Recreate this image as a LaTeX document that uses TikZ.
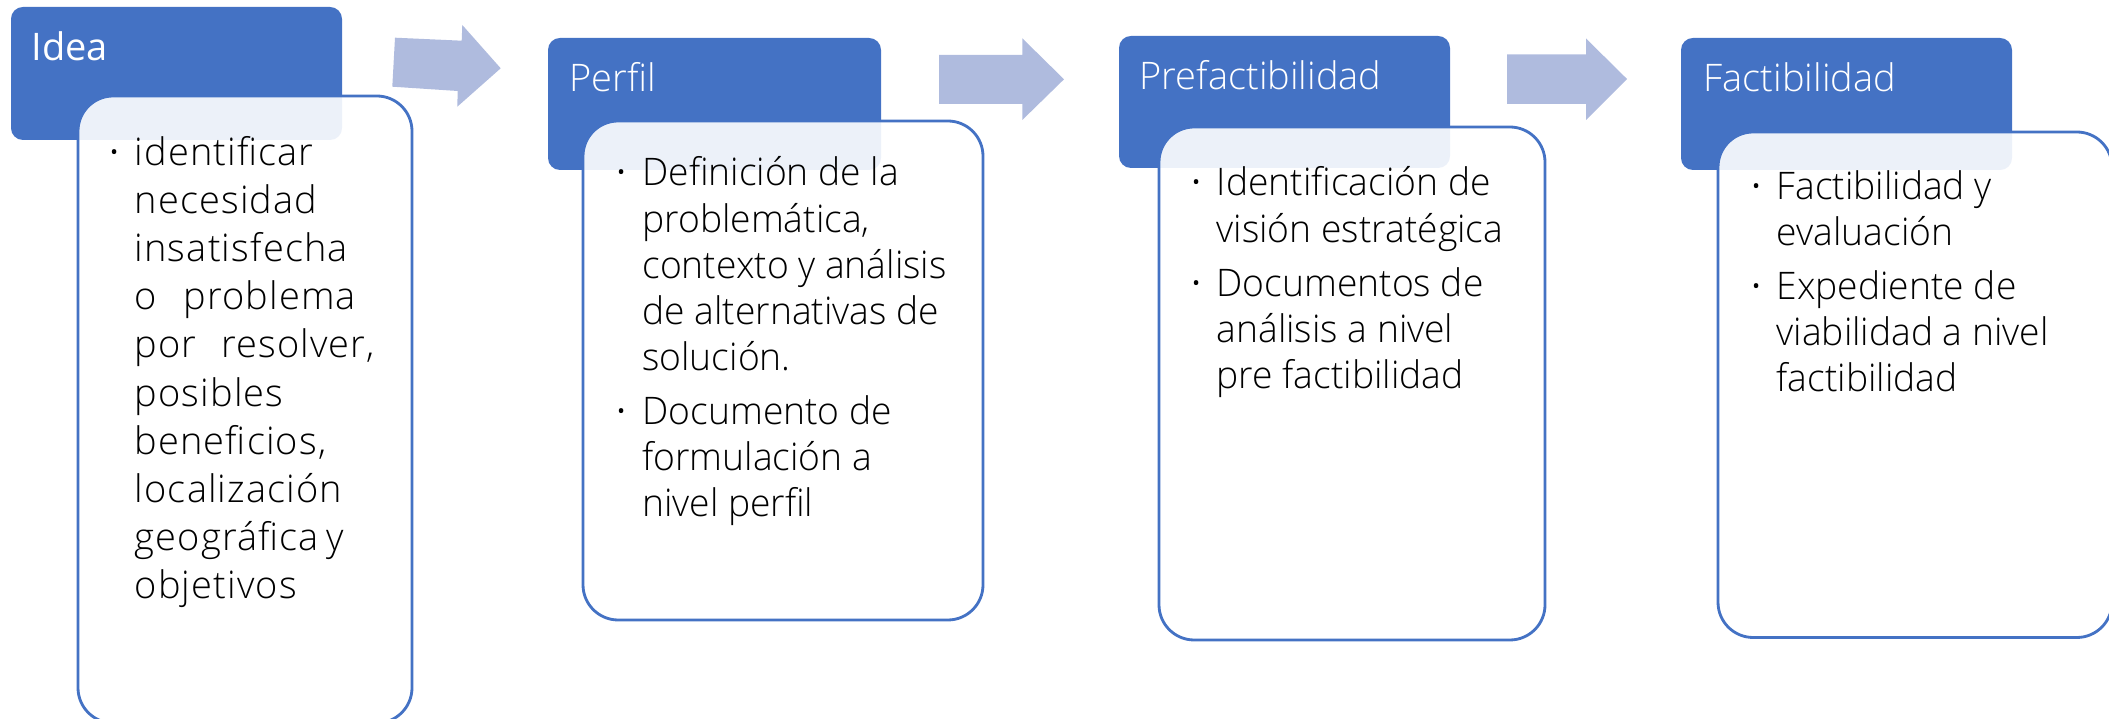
\documentclass[tikz,border=0pt]{standalone}
\usepackage{fontspec}
\setmainfont{Open Sans}[UprightFont=* Light, FakeStretch=0.98]
\newfontfamily\ideafont{Open Sans}[UprightFont=* Light, LetterSpace=3]
\newfontfamily\titlefont{Open Sans}[UprightFont=* Light]
\newfontfamily\ideatitlefont{Open Sans}
\definecolor{hdrblue}{HTML}{4472C4}
\definecolor{arrowblue}{HTML}{AFBBDE}
\definecolor{txtcol}{HTML}{000000}
\newcommand\mybul{\noindent\llap{{\ideatitlefont ·}\hspace{4.4pt}}}
\tikzset{
  hdrbox/.style={fill=hdrblue, rounded corners=3.4pt},
  bodybox/.style={fill=white, fill opacity=0.9, draw=hdrblue, draw opacity=1, line width=0.8pt, rounded corners=10pt},
  blockarrow/.style={fill=arrowblue, draw=none},
  titletxt/.style={anchor=base west, inner sep=0pt, text=white, font=\titlefont\fontsize{10.8}{13}\selectfont},
  bodytxt/.style={anchor=base west, inner sep=0pt, text=txtcol},
}
\begin{document}
\begin{tikzpicture}[x=0.01cm, y=-0.01cm]
\useasboundingbox (0,0) rectangle (2109,719);
\clip (0,0) rectangle (2109,719);
% headers
\path[hdrbox] (11,7) rectangle (342,140);
\path[hdrbox] (548,38) rectangle (881,170);
\path[hdrbox] (1119,36) rectangle (1450,168);
\path[hdrbox] (1681,38) rectangle (2012,170);
% bodies
\path[bodybox] (78,96) rectangle (412,723);
\path[bodybox] (583,121) rectangle (983,620);
\path[bodybox] (1159,127) rectangle (1545,640);
\path[bodybox] (1718,132) rectangle (2112,637.5);
% arrows
\path[blockarrow] (395,37.7) -- (461.7,40.7) -- (462.3,25) -- (500.7,68.3) -- (457.3,106.7) -- (457.7,91) -- (392.3,86.7) -- cycle;
\path[blockarrow] (939,55) -- (1022.3,55) -- (1022.3,38.3) -- (1064,79.3) -- (1022.3,120) -- (1022.3,104) -- (939,104) -- cycle;
\path[blockarrow] (1507,54.5) -- (1586,54.5) -- (1586,38.5) -- (1627,79) -- (1586,120) -- (1586,104) -- (1507,104) -- cycle;
% titles
\node[titletxt] (tidea) at (30.7,60.5) {\ideatitlefont Idea};
\node[titletxt] (tperfil) at (569,92) {Perfil};
\node[titletxt] (tpref) at (1139,89.4) {Prefactibilidad};
\node[titletxt] (tfact) at (1703,92) {Factibilidad};
% body texts
\node[bodytxt] (bidea) at (134,166) {\parbox[t]{80mm}{\ideafont\fontsize{10.8}{13.65}\selectfont
\mybul identificar\\ necesidad\\ insatisfecha\\ o\hspace{0.7em}problema\\ por\hspace{0.65em}resolver,\\ posibles\\ beneficios,\\ localización\\ geográfica\hspace{0.2em}y\\ objetivos}};
\node[bodytxt] (bperfil) at (641.7,186) {\parbox[t]{80mm}{\fontsize{10.8}{13.1}\selectfont
\mybul Definición de la\\ problemática,\\ contexto y análisis\\ de alternativas de\\ solución.\par\vspace{2.3pt}
\mybul Documento de\\ formulación a\\ nivel perfil}};
\node[bodytxt] (bpref) at (1216,196) {\parbox[t]{80mm}{\fontsize{10.8}{13.1}\selectfont
\mybul Identificación de\\ visión estratégica\par\vspace{2.3pt}
\mybul Documentos de\\ análisis a nivel\\ pre factibilidad}};
\node[bodytxt] (bfact) at (1776,199.5) {\parbox[t]{80mm}{\fontsize{10.8}{13.1}\selectfont
\mybul Factibilidad y\\ evaluación\par\vspace{2.3pt}
\mybul Expediente de\\ viabilidad a nivel\\ factibilidad}};
\end{tikzpicture}
\end{document}
